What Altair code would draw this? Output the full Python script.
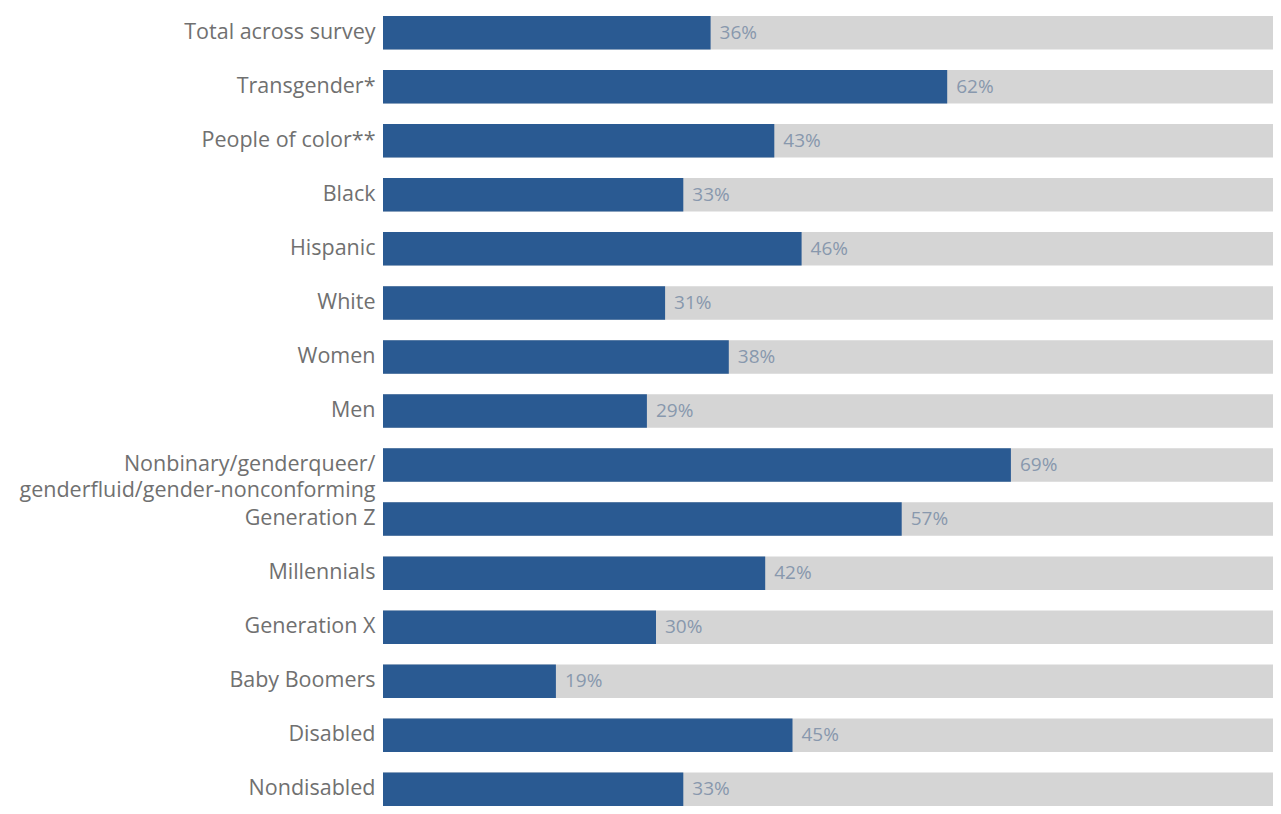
import altair as alt
import pandas as pd

categories = [
    "Total across survey",
    "Transgender*",
    "People of color**",
    "Black",
    "Hispanic",
    "White",
    "Women",
    "Men",
    "Nonbinary/genderqueer/|genderfluid/gender-nonconforming",
    "Generation Z",
    "Millennials",
    "Generation X",
    "Baby Boomers",
    "Disabled",
    "Nondisabled",
]
values = [36, 62, 43, 33, 46, 31, 38, 29, 69, 57, 42, 30, 19, 45, 33]
full = [100] * len(categories)

df = pd.DataFrame({"category": categories, "value": values, "full": full})
df["label"] = df["value"].astype(str) + "%"

xscale = alt.Scale(domain=[0, 100], nice=False, zero=True, range=[0, 910])
y = alt.Y(
    "category:N",
    sort=categories,
    scale=alt.Scale(paddingInner=0.38, paddingOuter=0.146, range=[0, 806]),
    axis=alt.Axis(
        title=None,
        domain=False,
        ticks=False,
        labelPadding=8,
        labelFont="Open Sans",
        labelFontSize=21.5,
        labelColor="#707070",
        labelExpr="split(datum.label, '|')",
        labelLineHeight=26,
        labelLimit=0,
    ),
)

bg = alt.Chart(df).mark_bar(color="#d5d5d5").encode(
    x=alt.X("full:Q", scale=xscale, axis=None), y=y
)
fg = alt.Chart(df).mark_bar(color="#2a5a92").encode(
    x=alt.X("value:Q", scale=xscale, axis=None), y=y
)
txt = alt.Chart(df).mark_text(
    align="left", baseline="middle", dx=9, font="Open Sans", fontSize=19, color="#8898ad"
).encode(x=alt.X("value:Q", scale=xscale, axis=None), y=y, text="label:N")

chart = (
    alt.layer(bg, fg, txt)
    .properties(
        width=890,
        height=798,
        autosize=alt.AutoSizeParams(type="none"),
        padding={"left": 375, "top": 0, "right": 0, "bottom": 0},
    )
    .configure_view(stroke=None)
)

chart.save("out.html", embed_options={"renderer": "svg", "actions": False})
